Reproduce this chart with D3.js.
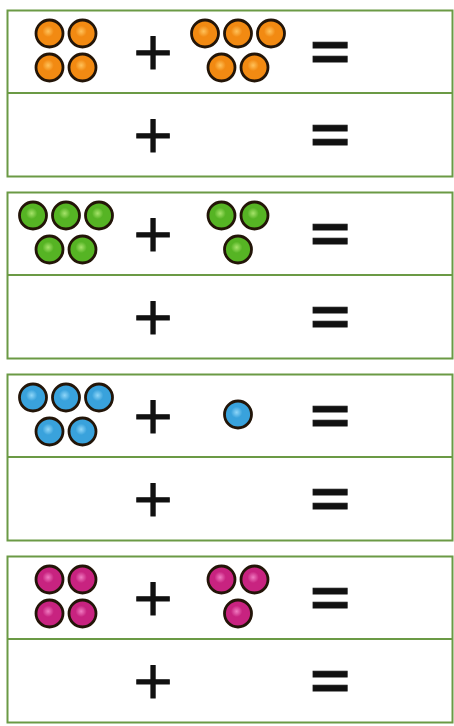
<!DOCTYPE html>
<html>
<head>
<meta charset="utf-8">
<script src="https://cdn.jsdelivr.net/npm/d3@7"></script>
<style>
  body { margin: 0; background: #fff; }
  svg { display: block; }
</style>
</head>
<body>
<svg id="chart"></svg>
<script>
// one problem per box: left count + right count
const problems = ["orange", "green", "blue", "magenta"];
const leftCounts = [4, 5, 5, 4];
const rightCounts = [5, 3, 1, 3];
const ballColors = {
    orange:  ["#ffc25a", "#f28a12", "#b85a00"],
    green:   ["#a6e36a", "#56b424", "#2f7a10"],
    blue:    ["#8fd6f8", "#39a2dc", "#1a6a9c"],
    magenta: ["#f07ac0", "#c82380", "#7e1050"]
};
// how balls are stacked for a given count (balls per row)
const stacking = { 1: [1], 3: [2, 1], 4: [2, 2], 5: [3, 2] };

const width = 454, height = 726;
const svg = d3.select("#chart").attr("width", width).attr("height", height);

// step 182, box 166
const y = d3.scaleBand()
    .domain(d3.range(problems.length))
    .range([10, 10 + 182 * problems.length - 16])
    .paddingInner(16 / 182)
    .paddingOuter(0);
const slot = d3.scaleOrdinal()
    .domain(["a", "plus", "b", "eq"])
    .range([66, 153, 238, 330]);
const col = d3.scaleLinear().domain([0, 1]).range([0, 33]);
const row = d3.scaleLinear().domain([0, 1]).range([0, 34]);

const defs = svg.append("defs");
problems.forEach(p => {
    const g = defs.append("radialGradient")
        .attr("id", "ball-" + p)
        .attr("cx", "45%").attr("cy", "42%").attr("r", "60%");
    g.append("stop").attr("offset", "0%").attr("stop-color", ballColors[p][0]);
    g.append("stop").attr("offset", "35%").attr("stop-color", ballColors[p][1]);
    g.append("stop").attr("offset", "85%").attr("stop-color", ballColors[p][1]);
    g.append("stop").attr("offset", "100%").attr("stop-color", ballColors[p][2]);
});

function ballsFor(count, cx, cy) {
    const rows = stacking[count];
    const out = [];
    rows.forEach((n, ri) => {
        const by = cy + row(ri - (rows.length - 1) / 2);
        for (let i = 0; i < n; i++) {
            out.push({ x: cx + col(i - (n - 1) / 2), y: by });
        }
    });
    return out;
}

// ink centre of a glyph above its baseline
function inkMid(ch, font) {
    const ctx = document.createElement("canvas").getContext("2d");
    ctx.font = font;
    const m = ctx.measureText(ch);
    return (m.actualBoundingBoxAscent - m.actualBoundingBoxDescent) / 2;
}
const opFont = "52px 'DejaVu Sans'";
const plusMid = inkMid("+", opFont);
const eqMid = inkMid("=", opFont);
const eqScale = 1.33;

const boxes = svg.selectAll("g.problem")
    .data(problems)
    .join("g")
    .attr("class", "problem")
    .attr("transform", (d, i) => `translate(0,${y(i)})`);

const bh = y.bandwidth();
boxes.append("rect")
    .attr("x", 7.5).attr("y", 0.5)
    .attr("width", 445).attr("height", bh)
    .attr("fill", "#fff")
    .attr("stroke", "#6b9a45")
    .attr("stroke-width", 2);
boxes.append("line")
    .attr("x1", 7.5).attr("x2", 452.5)
    .attr("y1", bh / 2).attr("y2", bh / 2)
    .attr("stroke", "#6b9a45")
    .attr("stroke-width", 2);

// operators in both rows
[0.25, 0.75].forEach(f => {
    const mid = bh * f;
    boxes.append("text")
        .attr("x", slot("plus")).attr("y", mid + 1 + plusMid)
        .attr("text-anchor", "middle")
        .attr("font-family", "DejaVu Sans")
        .attr("font-size", 52)
        .attr("fill", "#111")
        .attr("stroke", "#111")
        .attr("stroke-width", 1)
        .text("+");
    boxes.append("text")
        .attr("transform", `translate(${slot("eq")},${mid + 1 + eqMid * eqScale}) scale(1.05,${eqScale})`)
        .attr("text-anchor", "middle")
        .attr("font-family", "DejaVu Sans")
        .attr("font-size", 52)
        .attr("fill", "#111")
        .attr("stroke", "#111")
        .attr("stroke-width", 0.8)
        .text("=");
});

boxes.each(function (p, i) {
    const g = d3.select(this);
    const cy = bh * 0.25 - 1;
    const balls = ballsFor(leftCounts[i], slot("a"), cy)
        .concat(ballsFor(rightCounts[i], slot("b"), cy));
    g.selectAll("circle")
        .data(balls)
        .join("circle")
        .attr("cx", d => d.x)
        .attr("cy", d => d.y)
        .attr("r", 13.5)
        .attr("fill", `url(#ball-${p})`)
        .attr("stroke", "#231508")
        .attr("stroke-width", 2.8);
});
</script>
</body>
</html>
